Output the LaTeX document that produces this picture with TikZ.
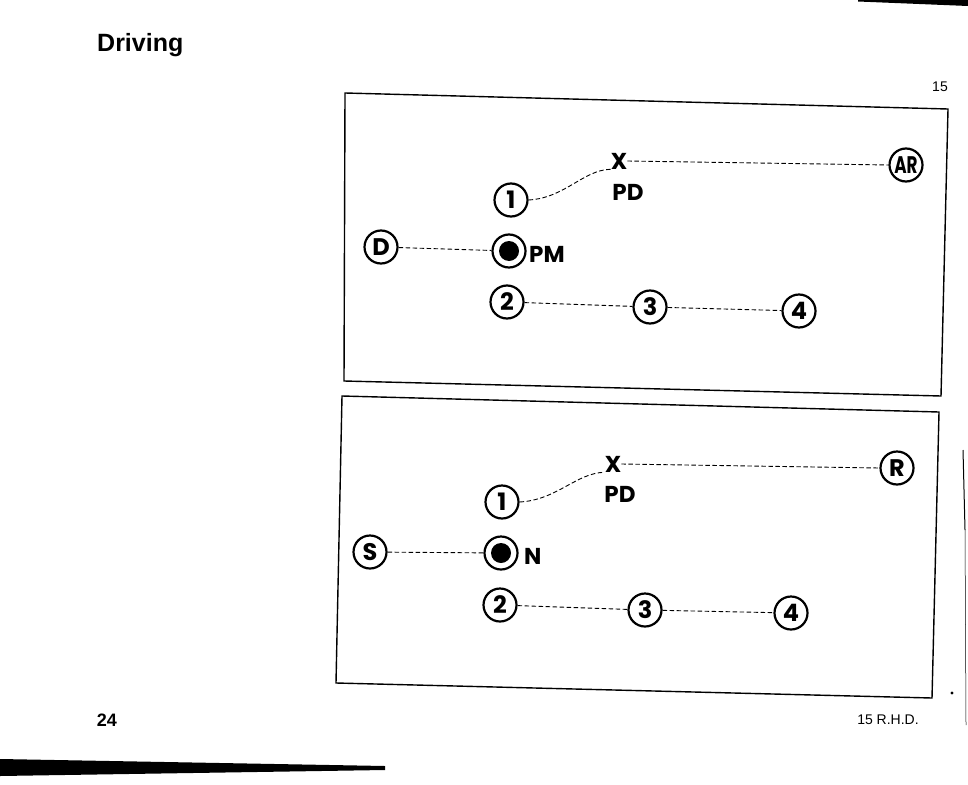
\documentclass[tikz,border=0pt]{standalone}
\usepackage{fontspec}
\setmainfont{Liberation Sans}
\newfontfamily\geo{Poppins}
\begin{document}
\begin{tikzpicture}[x=1pt,y=-1pt,
  stop/.style={circle,draw,line width=2.2pt,minimum size=33pt,inner sep=0pt,
    font=\geo\bfseries\fontsize{24}{24}\selectfont},
  dotstop/.style={stop,path picture={\fill (path picture bounding box.center) circle (10pt);}},
  link/.style={dash pattern=on 4.5pt off 2.5pt,line width=0.9pt},
  panel/.style={line width=1.4pt,line join=miter},
  lbl/.style={font=\geo\bfseries\fontsize{23}{23}\selectfont,inner sep=0pt},
  page/.style={font=\fontsize{14}{14}\selectfont,inner sep=0pt},
]
\useasboundingbox (0,0) rectangle (968,784);

% scan edges
\fill (858,0) -- (968,0) -- (968,6) -- (858,1.5) -- cycle;
\fill (0,759) -- (385,766) -- (385,770) -- (0,776) -- cycle;
\draw[line width=1pt] (963,450) -- (965,530);
\draw[line width=0.5pt] (965,530) -- (966,725);
\fill (952,693) circle (1.6pt);

% page texts
\node[font=\bfseries\fontsize{25}{25}\selectfont,anchor=west,inner sep=0pt] (title) at (97,45) {Driving};
\node[page] (fig) at (940,87) {15};
\node[page,font=\bfseries\fontsize{18}{18}\selectfont] (pnum) at (107,720) {24};
\node[page] (rhd) at (888,720) {15 R.H.D.};

% ---------- panel 1 ----------
\draw[panel] (345,93) -- (948,109) -- (941,396) -- (344,381) -- cycle;
\node[stop] (a1) at (511,200) {1};
\node[lbl] (ax) at (619,161) {X};
\node[lbl] (apd) at (628,192) {PD};
\node[stop] (aar) at (906,165) {\scalebox{0.7}[1]{AR}};
\node[stop] (ad) at (381,247) {D};
\node[dotstop] (apm) at (509,251) {};
\node[lbl,anchor=west] (apml) at (529,254) {PM};
\node[stop] (a2) at (507,302) {2};
\node[stop] (a3) at (650,307) {3};
\node[stop] (a4) at (799,311) {4};
\draw[link] (a1.east) .. controls (565,198) and (583,170) .. (ax.south west);
\draw[link] (ax.east) -- (aar.west);
\draw[link] (ad) -- (apm);
\draw[link] (a2) -- (a3);
\draw[link] (a3) -- (a4);

% ---------- panel 2 ----------
\draw[panel] (342,396) -- (939,412) -- (932,698) -- (336,683) -- cycle;
\node[stop] (b1) at (502,502) {1};
\node[lbl] (bx) at (613,464) {X};
\node[lbl] (bpd) at (620,494) {PD};
\node[stop] (br) at (897,468) {R};
\node[stop] (bs) at (370,552) {S};
\node[dotstop] (bn) at (501,553) {};
\node[lbl,anchor=west] (bnl) at (524,556) {N};
\node[stop] (b2) at (500,605) {2};
\node[stop] (b3) at (645,610) {3};
\node[stop] (b4) at (791,613) {4};
\draw[link] (b1.east) .. controls (557,500) and (576,473) .. (bx.south west);
\draw[link] (bx.east) -- (br.west);
\draw[link] (bs) -- (bn);
\draw[link] (b2) -- (b3);
\draw[link] (b3) -- (b4);
\end{tikzpicture}
\end{document}
